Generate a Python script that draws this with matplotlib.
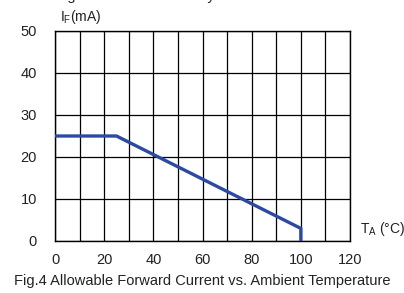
import matplotlib.pyplot as plt

plt.rcParams['font.family'] = ['Liberation Sans', 'DejaVu Sans']

# derating curve
temp_c = [0, 25, 100, 100]
current_ma = [25, 25, 3, 0]

x_ticks = [0, 20, 40, 60, 80, 100, 120]
y_ticks = [0, 10, 20, 30, 40, 50]

fig = plt.figure(figsize=(4.04, 2.93), dpi=100)
ax = fig.add_axes([55 / 404, 52 / 293, 295 / 404, 210 / 293])

ax.set_xlim(0, 120)
ax.set_ylim(0, 50)
ax.set_yticks(y_ticks)
ax.set_xticks(x_ticks)
ax.set_xticks(range(10, 120, 20), minor=True)
ax.grid(True, color='black', linewidth=0.9)
ax.grid(True, which='minor', axis='x', color='black', linewidth=0.9)
ax.tick_params(which='both', length=0, labelsize=10.5, colors='#222222')
ax.tick_params(axis='x', pad=9)
ax.tick_params(axis='y', pad=13)
for s in ax.spines.values():
    s.set_color('black')
    s.set_linewidth(1.0)

ax.plot(temp_c, current_ma, color='#2c49a4', linewidth=2.4, solid_capstyle='butt', zorder=3)

fig.text(60 / 404, 1 - 17 / 293, r'I$_\mathregular{F}$(mA)', fontsize=10, va='center', color='#222222')
fig.text(360 / 404, 1 - 229 / 293, r'T$_\mathregular{A}$ (°C)', fontsize=10, va='center', color='#222222')
fig.text(0.5, 1 - 281 / 293, 'Fig.4 Allowable Forward Current vs. Ambient Temperature',
         fontsize=10.5, ha='center', va='center', color='#222222')
# previous figure's caption, cut off at the top edge as in the source
fig.text(0.5, 1 + 4 / 293, 'Fig.3 Luminous Intensity vs. Forward Current',
         fontsize=10.5, ha='center', va='center', color='#222222')

fig.savefig('out.png', dpi=100)
